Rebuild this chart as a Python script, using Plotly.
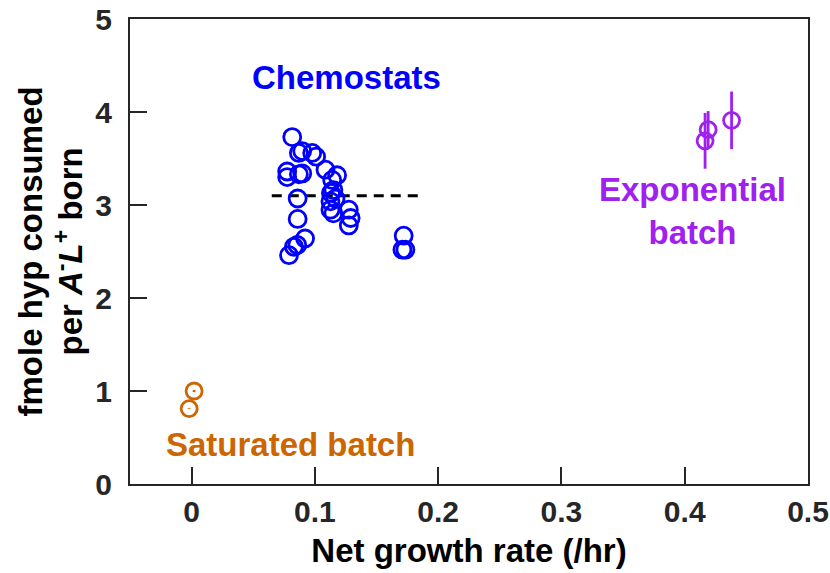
import plotly.graph_objects as go

# Chemostat runs: net growth rate (/hr) vs fmole hyp consumed per A-L+ born
chemo_rate = [0.0816, 0.0897, 0.087, 0.0978, 0.101, 0.0775, 0.0775, 0.0897, 0.087, 0.1086,
              0.118, 0.114, 0.115, 0.113, 0.1167, 0.1126, 0.1126, 0.115, 0.1275, 0.129,
              0.1275, 0.086, 0.086, 0.092, 0.0857, 0.083, 0.079, 0.172, 0.171, 0.1734]
chemo_hyp = [3.73, 3.58, 3.56, 3.56, 3.52, 3.36, 3.30, 3.34, 3.33, 3.38,
             3.32, 3.27, 3.16, 3.13, 3.07, 3.04, 2.95, 2.91, 2.95, 2.86,
             2.78, 3.07, 2.85, 2.64, 2.57, 2.55, 2.46, 2.67, 2.52, 2.52]
chemo_mean = 3.1
chemo_mean_span = [0.065, 0.185]

# Exponential batch cultures (mean +/- error)
exp_rate = [0.419, 0.4165, 0.438]
exp_hyp = [3.81, 3.69, 3.91]
exp_err = [0.2, 0.3, 0.31]

# Saturated batch cultures
sat_rate = [0.002, -0.002]
sat_hyp = [1.0, 0.81]
sat_err = [0.012, 0.005]

x_ticks = [0, 0.1, 0.2, 0.3, 0.4, 0.5]
x_tick_text = ["0", "0.1", "0.2", "0.3", "0.4", "0.5"]
y_ticks = [0, 1, 2, 3, 4, 5]
y_tick_text = ["0", "1", "2", "3", "4", "5"]

BLUE = "#0000FF"
PURPLE = "#A020F0"
ORANGE = "#CC6600"
AXIS = "#262626"
FONT = "Liberation Sans, Arial, sans-serif"

fig = go.Figure()

fig.add_trace(go.Scatter(
    x=chemo_mean_span, y=[chemo_mean, chemo_mean], mode="lines",
    line=dict(color="black", width=3, dash="10px,7px"), showlegend=False))

fig.add_trace(go.Scatter(
    x=chemo_rate, y=chemo_hyp, mode="markers",
    marker=dict(symbol="circle-open", size=17, color=BLUE, line=dict(width=2.8, color=BLUE)),
    showlegend=False))

fig.add_trace(go.Scatter(
    x=exp_rate, y=exp_hyp, mode="markers",
    marker=dict(symbol="circle-open", size=16, color=PURPLE, line=dict(width=2.8, color=PURPLE)),
    error_y=dict(type="data", array=exp_err, color=PURPLE, thickness=2.8, width=0),
    showlegend=False))

fig.add_trace(go.Scatter(
    x=sat_rate, y=sat_hyp, mode="markers",
    marker=dict(symbol="circle-open", size=16, color=ORANGE, line=dict(width=2.8, color=ORANGE)),
    error_y=dict(type="data", array=sat_err, color=ORANGE, thickness=2.8, width=0),
    showlegend=False))

ann_font = dict(family=FONT, size=33)
annotations = [
    dict(x=0.1256, y=4.37, text="<b>Chemostats</b>", showarrow=False,
         font=dict(ann_font, color=BLUE), xanchor="center", yanchor="middle"),
    dict(x=0.406, y=2.94, text="<b>Exponential<br>batch</b>", showarrow=False,
         font=dict(ann_font, color=PURPLE), xanchor="center", yanchor="middle"),
    dict(x=0.080, y=0.43, text="<b>Saturated batch</b>", showarrow=False,
         font=dict(ann_font, color=ORANGE), xanchor="center", yanchor="middle"),
    # two-line y-axis title
    dict(xref="paper", yref="paper", x=0, y=0.5, xshift=-100, textangle=-90,
         text="<b>fmole hyp consumed</b>", showarrow=False,
         font=dict(family=FONT, size=33, color="black"), xanchor="center", yanchor="middle"),
    dict(xref="paper", yref="paper", x=0, y=0.5, xshift=-62, textangle=-90,
         text="<b>per <i>A</i><sup>-</sup><i>L</i><sup>+</sup> born</b>", showarrow=False,
         font=dict(family=FONT, size=33, color="black"), xanchor="center", yanchor="middle"),
]

axis_common = dict(
    showgrid=False, zeroline=False, showline=True, mirror=True, automargin=False,
    linecolor=AXIS, linewidth=2, ticks="inside", ticklen=17, tickwidth=2,
    tickcolor=AXIS, tickfont=dict(family=FONT, size=30, color=AXIS),
)

fig.update_layout(
    width=830, height=573,
    margin=dict(l=130, r=22, t=19, b=89),
    paper_bgcolor="white", plot_bgcolor="white",
    font=dict(family=FONT),
    xaxis=dict(axis_common, range=[-0.05, 0.5], tickvals=x_ticks,
               ticktext=[f"<b>{t}</b>" for t in x_tick_text],
               ticklabelstandoff=0,
               title=dict(text="<b>Net growth rate (/hr)</b>", standoff=12,
                          font=dict(family=FONT, size=33, color="black"))),
    yaxis=dict(axis_common, range=[0, 5], tickvals=y_ticks,
               ticktext=[f"<b>{t}</b>" for t in y_tick_text],
               ticklabelstandoff=10),
    annotations=annotations,
)

fig.write_html("out.html")
